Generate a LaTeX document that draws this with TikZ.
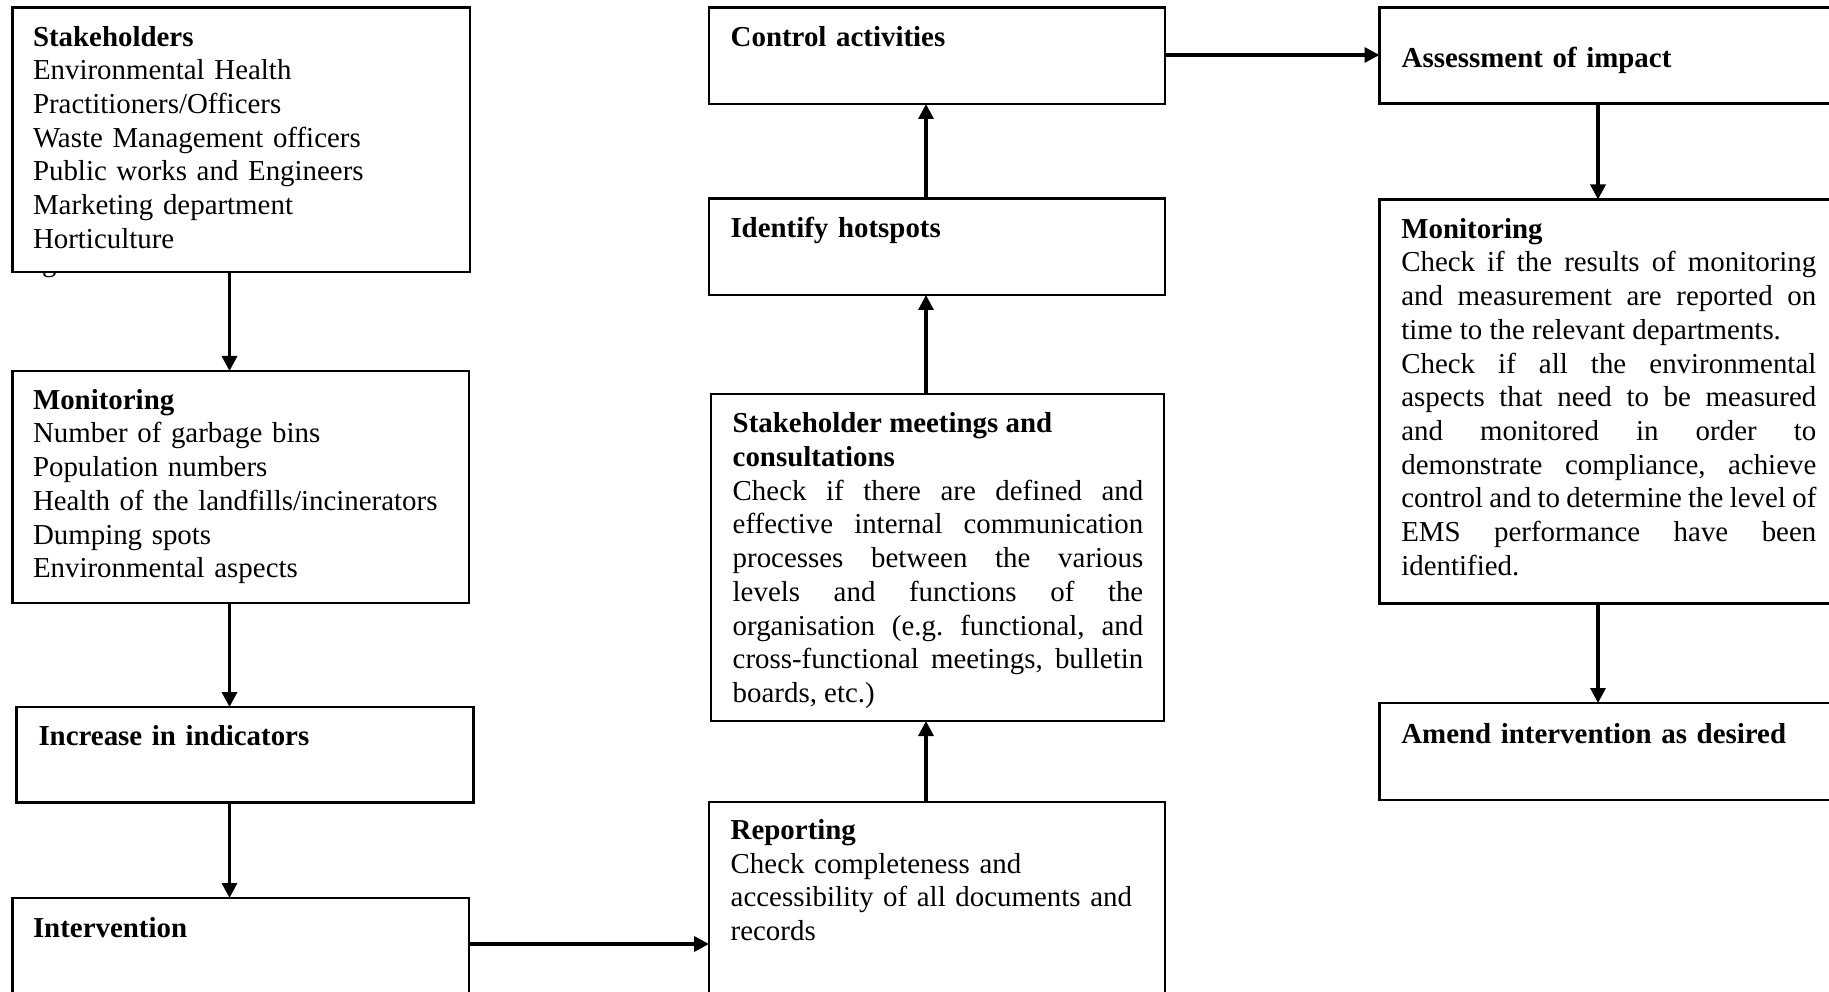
\documentclass[tikz,border=0pt]{standalone}
\usepackage{fontspec}
\setmainfont{Liberation Serif}
\usetikzlibrary{arrows.meta}
% body text: 12pt Times scaled to the drawing's pixel grid
\newcommand\bodyfont{\fontsize{28.9}{33.7}\selectfont\frenchspacing
  \parindent=0pt\tolerance=10000\hbadness=10000\hyphenpenalty=10000
  \exhyphenpenalty=10000\spaceskip=0.25em plus 0.6em minus 0.1em\relax}
\begin{document}
\begin{tikzpicture}[x=1pt,y=-1pt,
  box/.style={draw, line width=2.2pt, rectangle, inner sep=0pt, outer sep=0pt,
    anchor=north west},
  txt/.style={anchor=north west, inner sep=0pt, outer sep=0pt, font=\bodyfont,
    text width=#1, align=left},
  jtxt/.style={anchor=north west, inner sep=0pt, outer sep=0pt, font=\bodyfont,
    text width=#1, align=justify},
  arr/.style={line width=3.3pt, -{Triangle[length=15pt,width=15pt]}}]
\useasboundingbox (0,0) rectangle (1829,992);
\clip (0,0) rectangle (1829,992);

% ---- left column ----
\node[box, minimum width=457.5pt, minimum height=264.5pt] (sth) at (12.5,7.5) {};
\node[box, minimum width=456.5pt, minimum height=232pt] (monL) at (12.5,371) {};
\node[box, minimum width=457pt, minimum height=95.5pt] (inc) at (16.5,707) {};
\node[box, minimum width=456.5pt, minimum height=110pt] (intv) at (12.5,898) {};

% ---- middle column ----
\node[box, minimum width=456pt, minimum height=96.5pt] (ctl) at (709,7.5) {};
\node[box, minimum width=456pt, minimum height=96.5pt] (hot) at (709,198.5) {};
\node[box, minimum width=453pt, minimum height=327pt] (mtg) at (711,394) {};
\node[box, minimum width=456pt, minimum height=200pt] (rep) at (709,802) {};

% ---- right column ----
\node[box, minimum width=460pt, minimum height=96pt] (ass) at (1379.5,7.5) {};
\node[box, minimum width=460pt, minimum height=404pt] (monR) at (1379.5,199.5) {};
\node[box, minimum width=460pt, minimum height=97pt] (amd) at (1379.5,703) {};

% ---- texts ----
\node[txt=430pt, xshift=20.5pt, yshift=-15.1pt] (sthT) at (sth.north west)
  {\strut\textbf{Stakeholders}\\Environmental Health\\Practitioners/Officers\\
   Waste Management officers\\Public works and Engineers\\Marketing department\\
   Horticulture};
\begin{scope}
  \clip (35,273.6) rectangle (65,285);
  \node[anchor=base west, inner sep=0pt, font=\bodyfont] (sthG) at (42,271.3) {g};
\end{scope}
\node[txt=430pt, xshift=20.5pt, yshift=-14.7pt] (monLT) at (monL.north west)
  {\strut\textbf{Monitoring}\\Number of garbage bins\\Population numbers\\
   Health of the landfills/incinerators\\Dumping spots\\Environmental aspects};
\node[txt=430pt, xshift=22pt, yshift=-15.4pt] (incT) at (inc.north west)
  {\strut\textbf{Increase in indicators}};
\node[txt=430pt, xshift=20.5pt, yshift=-16.2pt] (intvT) at (intv.north west)
  {\strut\textbf{Intervention}};

\node[txt=415pt, xshift=21.7pt, yshift=-15.1pt] (ctlT) at (ctl.north west)
  {\strut\textbf{Control activities}};
\node[txt=415pt, xshift=21.5pt, yshift=-15.7pt] (hotT) at (hot.north west)
  {\strut\textbf{Identify hotspots}};
\node[jtxt=410.6pt, xshift=21.7pt, yshift=-15.3pt] (mtgT) at (mtg.north west)
  {\strut\textbf{Stakeholder meetings and}\newline\textbf{consultations}\par
   Check if there are defined and\linebreak effective internal communication\linebreak
   processes between the various\linebreak levels and functions of the\linebreak
   organisation (e.g. functional, and\linebreak cross-functional meetings, bulletin\linebreak
   boards, etc.)};
\node[txt=415pt, xshift=21.7pt, yshift=-13.8pt] (repT) at (rep.north west)
  {\strut\textbf{Reporting}\\Check completeness and\\
   accessibility of all documents and\\records};

\node[txt=420pt, xshift=22.2pt, yshift=-36.8pt] (assT) at (ass.north west)
  {\strut\textbf{Assessment of impact}};
\node[jtxt=415pt, xshift=21.8pt, yshift=-15.2pt] (monRT) at (monR.north west)
  {\strut\textbf{Monitoring}\par
   Check if the results of monitoring\linebreak and measurement are reported on\linebreak
   time to the relevant departments.\par
   Check if all the environmental\linebreak aspects that need to be measured\linebreak
   and monitored in order to\linebreak demonstrate compliance, achieve\linebreak
   control and to determine the level of\linebreak EMS performance have been\linebreak
   identified.};
\node[txt=420pt, xshift=21.8pt, yshift=-16.7pt] (amdT) at (amd.north west)
  {\strut\textbf{Amend intervention as desired}};

% ---- connector guide lines ----
\coordinate (cA) at (229.5,0);
\coordinate (cB) at (926,0);
\coordinate (cC) at (1598,0);
\coordinate (rT) at (0,55);
\coordinate (rI) at (0,944);

% ---- connectors ----
\draw[arr] (sth.south -| cA) -- (monL.north -| cA);
\draw[arr] (monL.south -| cA) -- (inc.north -| cA);
\draw[arr] (inc.south -| cA) -- (intv.north -| cA);
\draw[arr] (intv.east |- rI) -- (rep.west |- rI);
\draw[arr] (rep.north -| cB) -- (mtg.south -| cB);
\draw[arr] (mtg.north -| cB) -- (hot.south -| cB);
\draw[arr] (hot.north -| cB) -- (ctl.south -| cB);
\draw[arr] (ctl.east |- rT) -- (ass.west |- rT);
\draw[arr] (ass.south -| cC) -- (monR.north -| cC);
\draw[arr] (monR.south -| cC) -- (amd.north -| cC);
\end{tikzpicture}
\end{document}
